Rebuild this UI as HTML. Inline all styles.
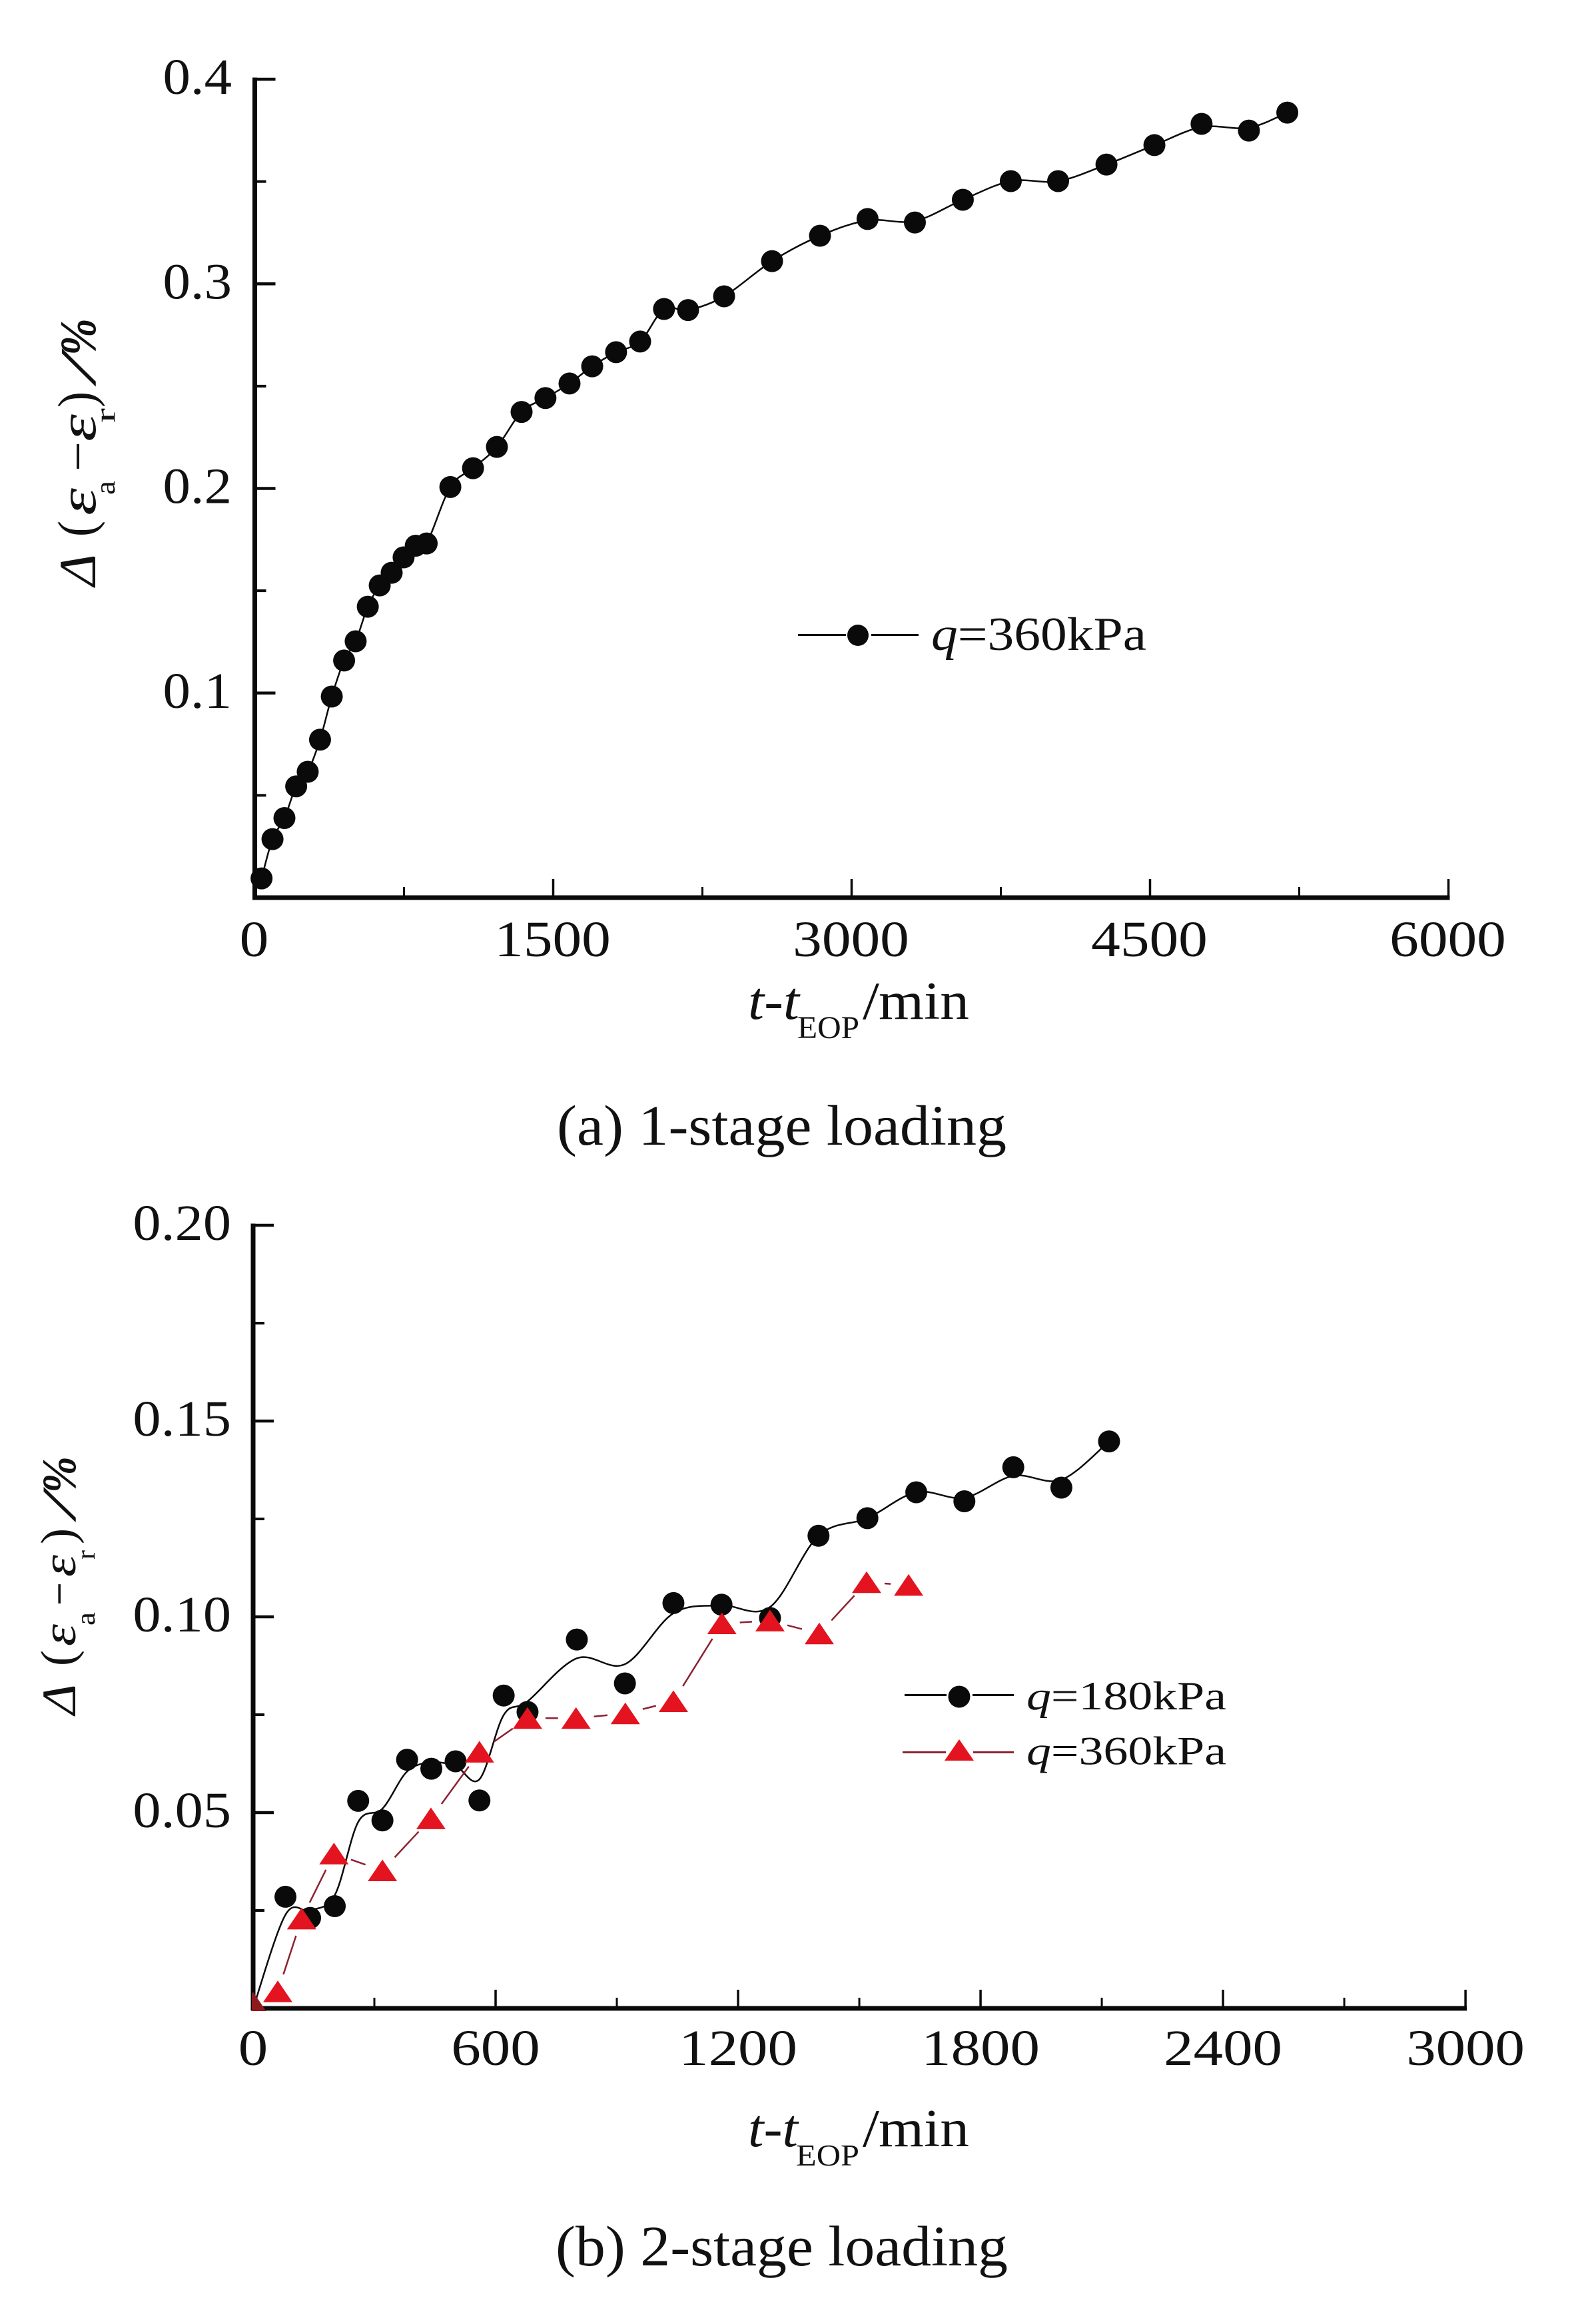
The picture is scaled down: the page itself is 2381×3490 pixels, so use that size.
<!DOCTYPE html>
<html lang="en">
<head>
<meta charset="utf-8">
<title>Deviatoric strain vs time after EOP</title>
<style>
html,body{margin:0;padding:0;background:#fff;}
svg{display:block;}
text{font-family:"Liberation Serif","DejaVu Serif",serif;fill:#111;}
.it{font-style:italic;}
</style>
</head>
<body>
<svg id="figure" xmlns="http://www.w3.org/2000/svg" width="2381" height="3490" viewBox="0 0 2381 3490">
<rect width="2381" height="3490" fill="#fff"/>
<defs>
<clipPath id="plot-clip-b"><rect x="378" y="1800" width="1900" height="1220"/></clipPath>
</defs>

<g id="chart-a"></g>
<g id="chart-b"></g>

<!-- Chart A titles -->
<g transform="translate(143,0) rotate(-90)">
<text class="it" x="-880" y="0" font-size="78" textLength="48" lengthAdjust="spacingAndGlyphs">Δ</text>
<text x="-806" y="-2" font-size="78" textLength="24" lengthAdjust="spacingAndGlyphs">(</text>
<text class="it" x="-774" y="0" font-size="78" textLength="41" lengthAdjust="spacingAndGlyphs">ε</text>
<text x="-743" y="29" font-size="42" textLength="21" lengthAdjust="spacingAndGlyphs">a</text>
<text x="-708" y="0" font-size="78" textLength="45" lengthAdjust="spacingAndGlyphs">−</text>
<text class="it" x="-663" y="0" font-size="78" textLength="41" lengthAdjust="spacingAndGlyphs">ε</text>
<text x="-635" y="29" font-size="42" textLength="22" lengthAdjust="spacingAndGlyphs">r</text>
<text x="-612" y="-2" font-size="78" textLength="24" lengthAdjust="spacingAndGlyphs">)</text>
<text class="it" x="-574" y="0" font-size="76" textLength="40" lengthAdjust="spacingAndGlyphs">/</text>
<text class="it" font-weight="bold" x="-534" y="0" font-size="76" textLength="56" lengthAdjust="spacingAndGlyphs">%</text>
</g>
<g>
<text class="it" x="1123" y="1530" font-size="80" textLength="77" lengthAdjust="spacingAndGlyphs">t-t</text>
<text x="1197" y="1559" font-size="48" textLength="93" lengthAdjust="spacingAndGlyphs">EOP</text>
<text x="1295" y="1530" font-size="80" textLength="25" lengthAdjust="spacingAndGlyphs">/</text>
<text x="1319" y="1530" font-size="80" textLength="136" lengthAdjust="spacingAndGlyphs">min</text>
</g>
<text x="836" y="1719" font-size="86" textLength="675" lengthAdjust="spacingAndGlyphs">(a) 1-stage loading</text>

<!-- Chart A legend -->
<g>
<line x1="1198" x2="1270" y1="953.5" y2="953.5" stroke="#0a0a0a" stroke-width="3"/>
<line x1="1308" x2="1379" y1="953.5" y2="953.5" stroke="#0a0a0a" stroke-width="3"/>
<circle cx="1288" cy="954" r="16" fill="#0a0a0a"/>
<text x="1398" y="976" font-size="71" textLength="323" lengthAdjust="spacingAndGlyphs"><tspan class="it">q</tspan>=360kPa</text>
</g>

<!-- Chart B titles -->
<g transform="translate(113,0) rotate(-90)">
<text class="it" x="-2575" y="0" font-size="72" textLength="46" lengthAdjust="spacingAndGlyphs">Δ</text>
<text x="-2502" y="-2" font-size="72" textLength="24" lengthAdjust="spacingAndGlyphs">(</text>
<text class="it" x="-2472" y="0" font-size="72" textLength="33" lengthAdjust="spacingAndGlyphs">ε</text>
<text x="-2441" y="29" font-size="40" textLength="20" lengthAdjust="spacingAndGlyphs">a</text>
<text x="-2411" y="0" font-size="72" textLength="35" lengthAdjust="spacingAndGlyphs">−</text>
<text class="it" x="-2368" y="0" font-size="72" textLength="33" lengthAdjust="spacingAndGlyphs">ε</text>
<text x="-2342" y="29" font-size="40" textLength="14" lengthAdjust="spacingAndGlyphs">r</text>
<text x="-2319" y="-2" font-size="72" textLength="24" lengthAdjust="spacingAndGlyphs">)</text>
<text class="it" x="-2280" y="0" font-size="72" textLength="37" lengthAdjust="spacingAndGlyphs">/</text>
<text class="it" font-weight="bold" x="-2242" y="0" font-size="72" textLength="55" lengthAdjust="spacingAndGlyphs">%</text>
</g>
<g>
<text class="it" x="1123" y="3223" font-size="80" textLength="75" lengthAdjust="spacingAndGlyphs">t-t</text>
<text x="1195" y="3252" font-size="45" textLength="95" lengthAdjust="spacingAndGlyphs">EOP</text>
<text x="1295" y="3223" font-size="80" textLength="25" lengthAdjust="spacingAndGlyphs">/</text>
<text x="1319" y="3223" font-size="80" textLength="136" lengthAdjust="spacingAndGlyphs">min</text>
</g>
<text x="834" y="3402" font-size="86" textLength="679" lengthAdjust="spacingAndGlyphs">(b) 2-stage loading</text>

<!-- Chart B legend -->
<g>
<line x1="1358" x2="1421" y1="2545.5" y2="2545.5" stroke="#0a0a0a" stroke-width="3"/>
<line x1="1460" x2="1522" y1="2545.5" y2="2545.5" stroke="#0a0a0a" stroke-width="3"/>
<circle cx="1440" cy="2548" r="16.5" fill="#0a0a0a"/>
<text x="1541" y="2567" font-size="60" textLength="300" lengthAdjust="spacingAndGlyphs"><tspan class="it">q</tspan>=180kPa</text>
<line x1="1355" x2="1420" y1="2631.5" y2="2631.5" stroke="#8c2232" stroke-width="3"/>
<line x1="1461" x2="1522" y1="2631.5" y2="2631.5" stroke="#8c2232" stroke-width="3"/>
<polygon points="1440,2612 1462,2644 1418,2644" fill="#e3141f"/>
<text x="1541" y="2649.5" font-size="60" textLength="300" lengthAdjust="spacingAndGlyphs"><tspan class="it">q</tspan>=360kPa</text>
</g>
</svg>

<script>
// ---------- Chart A data ----------
const timeA = [34,89,149,208,266,328,387,449,507,568,628,688,748,809,864,983,1097,1217,1341,1461,1582,1696,1816,1937,2057,2178,2359,2600,2841,3080,3318,3559,3800,4038,4281,4522,4759,4997,5190];
const strainA = [.0094,.0286,.0389,.0544,.0615,.0772,.0983,.1159,.1253,.1422,.1526,.1588,.1663,.172,.1731,.2007,.2099,.2203,.2374,.2442,.2513,.2597,.2666,.2718,.2877,.2872,.2939,.3111,.3235,.3317,.33,.3411,.3502,.3502,.3583,.3678,.3782,.3749,.3837];
const curveA = [.0094,.0286,.0389,.0544,.0615,.0772,.0983,.1159,.1253,.1422,.1526,.1588,.1663,.172,.1731,.2007,.2099,.2203,.2374,.2442,.2513,.2597,.2666,.2718,.2877,.2872,.2939,.3111,.3235,.331,.3307,.3411,.3502,.3502,.3583,.3678,.3766,.3763,.3837];
const xMajorA = [0,1500,3000,4500,6000];
const xMinorA = [750,2250,3750,5250];
const xLabelsA = ['0','1500','3000','4500','6000'];
const yMajorA = [0.1,0.2,0.3,0.4];
const yMinorA = [0.05,0.15,0.25,0.35];
const yLabelsA = ['0.1','0.2','0.3','0.4'];

// ---------- Chart B data ----------
const timeB180 = [0,80,141,202,260,320,381,441,501,560,620,679,801,920,1040,1159,1279,1399,1520,1641,1760,1881,2000,2118];
const strainB180 = [.001,.0285,.0231,.0261,.053,.048,.0635,.0612,.0631,.0531,.0799,.0757,.0942,.083,.1035,.1031,.0997,.1207,.1252,.1318,.1295,.1382,.133,.1448];
const curveB180 = [0,.0239,.025,.0289,.0476,.051,.0605,.0628,.0619,.0585,.0749,.0784,.0894,.0879,.1009,.1029,.1025,.1207,.1252,.1318,.1304,.136,.135,.1448];
const timeB360 = [0,61,120,200,320,440,560,679,799,921,1040,1160,1279,1401,1518,1622];
const strainB360 = [.0014,.0043,.0229,.0395,.0352,.0485,.0655,.0741,.0741,.0753,.0784,.0983,.099,.0957,.1088,.1081];
const xMajorB = [0,600,1200,1800,2400,3000];
const xMinorB = [300,900,1500,2100,2700];
const xLabelsB = ['0','600','1200','1800','2400','3000'];
const yMajorB = [0.05,0.10,0.15,0.20];
const yMinorB = [0.025,0.075,0.125,0.175];
const yLabelsB = ['0.05','0.10','0.15','0.20'];

// ---------- Axis functions ----------
function xScaleA(v){ return 382.5 + v * 448 / 1500; }
function yScaleA(v){ return 1348 - v * 3072.5; }
function xScaleB(v){ return 380 + v * 0.6067; }
function yScaleB(v){ return 3016 - v * 5880; }

const NS = 'http://www.w3.org/2000/svg';
const INK = '#0a0a0a';

function make(tag, attrs, parent){
  const el = document.createElementNS(NS, tag);
  for (const k in attrs) el.setAttribute(k, attrs[k]);
  parent.appendChild(el);
  return el;
}

function splinePath(xs, ys){
  let d = 'M' + xs[0] + ' ' + ys[0];
  for (let i = 0; i < xs.length - 1; i++){
    const a = Math.max(i - 1, 0), b = Math.min(i + 2, xs.length - 1);
    const c1x = xs[i] + (xs[i+1] - xs[a]) / 6, c1y = ys[i] + (ys[i+1] - ys[a]) / 6;
    const c2x = xs[i+1] - (xs[b] - xs[i]) / 6, c2y = ys[i+1] - (ys[b] - ys[i]) / 6;
    d += 'C' + c1x + ' ' + c1y + ' ' + c2x + ' ' + c2y + ' ' + xs[i+1] + ' ' + ys[i+1];
  }
  return d;
}

function drawAxes(g, xs, ys, cfg){
  const x0 = xs(0), y0 = ys(0);
  const xEnd = xs(cfg.xMajor[cfg.xMajor.length - 1]);
  const yEnd = ys(cfg.yMajor[cfg.yMajor.length - 1]);
  const yAxis = make('line', {x1:x0, x2:x0, y1:yEnd - 2.5, y2:y0 + 3.5, stroke:INK, 'stroke-width':7}, g);
  
  
  const xAxis = make('line', {x1:x0 - 3.5, x2:xEnd + 2, y1:y0, y2:y0, stroke:INK, 'stroke-width':7}, g);
  
  

  cfg.xMajor.forEach(function(v, i){
    if (i > 0){
      const t = make('line', {x1:xs(v), x2:xs(v), y1:y0 - 28, y2:y0, stroke:INK, 'stroke-width':3.5}, g);
      
      
    }
    const lab = make('text', {transform:'translate(' + (xs(v) + cfg.xLabelShift) + ',' + cfg.xLabelY + ') scale(' + cfg.xLabelScale + ',1)', 'text-anchor':'middle', 'font-size':76}, g);
    lab.textContent = cfg.xLabels[i];
    
    
  });
  cfg.xMinor.forEach(function(v){
    const t = make('line', {x1:xs(v), x2:xs(v), y1:y0 - 16, y2:y0, stroke:INK, 'stroke-width':3}, g);
    
    
  });
  cfg.yMajor.forEach(function(v, i){
    const t = make('line', {x1:x0, x2:x0 + 31, y1:ys(v), y2:ys(v), stroke:INK, 'stroke-width':4.5}, g);
    
    
    const lab = make('text', {transform:'translate(' + cfg.yLabelRight + ',' + (ys(v) + 22) + ') scale(' + cfg.yLabelScale + ',1)', 'text-anchor':'end', 'font-size':76}, g);
    lab.textContent = cfg.yLabels[i];
    
    
  });
  cfg.yMinor.forEach(function(v){
    const t = make('line', {x1:x0, x2:x0 + 17, y1:ys(v), y2:ys(v), stroke:INK, 'stroke-width':4}, g);
    
    
  });
}

// ---------- Render chart A ----------
const gA = document.getElementById('chart-a');
drawAxes(gA, xScaleA, yScaleA, {xMajor:xMajorA, xMinor:xMinorA, xLabels:xLabelsA, yMajor:yMajorA, yMinor:yMinorA, yLabels:yLabelsA, xLabelY:1436, xLabelShift:-1, xLabelScale:1.15, yLabelRight:348, yLabelScale:1.09});
const lineA = make('path', {d:splinePath(timeA.map(xScaleA), curveA.map(yScaleA)), fill:'none', stroke:INK, 'stroke-width':2.5}, gA);


timeA.forEach(function(t, i){
  const c = make('circle', {cx:xScaleA(t), cy:yScaleA(strainA[i]), r:16.5, fill:INK}, gA);
  
  
});

// ---------- Render chart B ----------
const gB = document.getElementById('chart-b');
drawAxes(gB, xScaleB, yScaleB, {xMajor:xMajorB, xMinor:xMinorB, xLabels:xLabelsB, yMajor:yMajorB, yMinor:yMinorB, yLabels:yLabelsB, xLabelY:3101, xLabelShift:0, xLabelScale:1.17, yLabelRight:347, yLabelScale:1.11});
const curve180 = make('path', {d:splinePath(timeB180.map(xScaleB), curveB180.map(yScaleB)), fill:'none', stroke:INK, 'stroke-width':2.5}, gB);


timeB180.forEach(function(t, i){
  if (i === 0) return;
  const c = make('circle', {cx:xScaleB(t), cy:yScaleB(strainB180[i]), r:16.5, fill:INK}, gB);
  
  
});

let redD = '';
const TRIM = 27;
for (let i = 0; i < timeB360.length - 1; i++){
  const px = xScaleB(timeB360[i]), py = yScaleB(strainB360[i]);
  const qx = xScaleB(timeB360[i+1]), qy = yScaleB(strainB360[i+1]);
  const len = Math.hypot(qx - px, qy - py);
  if (len <= TRIM * 2) continue;
  const ux = (qx - px) / len, uy = (qy - py) / len;
  redD += 'M' + (px + ux * TRIM) + ' ' + (py + uy * TRIM) + 'L' + (qx - ux * TRIM) + ' ' + (qy - uy * TRIM);
}
const line360 = make('path', {d:redD, fill:'none', stroke:'#8c2232', 'stroke-width':2.5}, gB);


const triLayer = make('g', {'clip-path':'url(#plot-clip-b)'}, gB);


timeB360.forEach(function(t, i){
  const cx = xScaleB(t), cy = yScaleB(strainB360[i]);
  const pts = cx + ',' + (cy - 16.5) + ' ' + (cx + 22) + ',' + (cy + 16) + ' ' + (cx - 22) + ',' + (cy + 16);
  const m = make('polygon', {points:pts, fill:i === 0 ? '#8e1a1e' : '#e3141f'}, triLayer);
  
  
});
</script>
</body>
</html>
